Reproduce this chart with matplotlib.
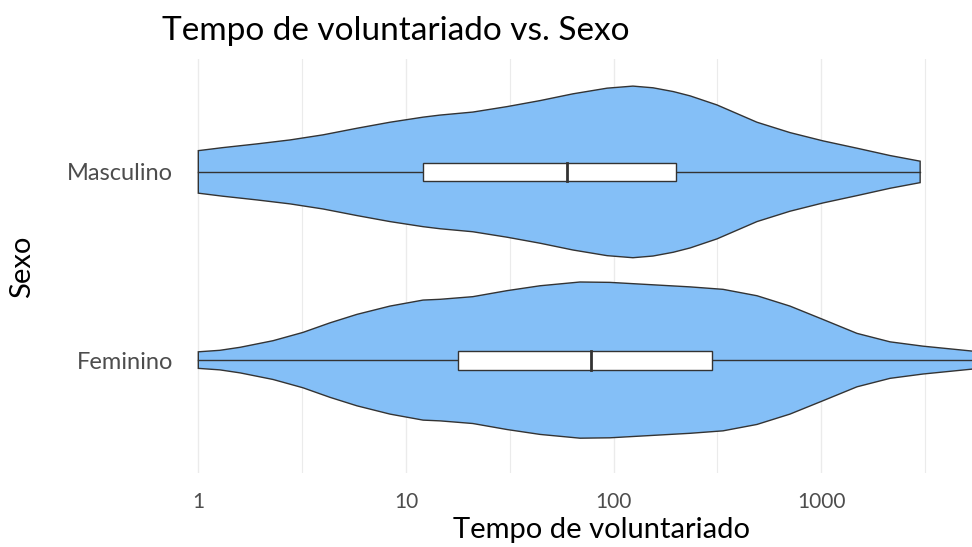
import numpy as np
import matplotlib
matplotlib.use("Agg")
import matplotlib.pyplot as plt
from matplotlib.patches import Rectangle

plt.rcParams['font.family'] = ['Lato', 'DejaVu Sans']

# categorias (de baixo para cima)
categorias = ['Feminino', 'Masculino']

# perfil do violino: tempo (horas) e meia-largura (unidades de categoria)
masc_tempo = [1, 1.31, 1.92, 2.77, 3.99, 5.81, 8.38, 12.1, 14.6, 21.0, 30.7, 44.3,
              63.8, 93.1, 124, 155, 194, 234, 315, 491, 708, 1021, 1489, 2148, 3000]
masc_largura = [0.113, 0.129, 0.149, 0.170, 0.197, 0.232, 0.264, 0.291, 0.302, 0.318,
                0.347, 0.379, 0.415, 0.445, 0.456, 0.447, 0.427, 0.404, 0.356, 0.264,
                0.209, 0.165, 0.126, 0.087, 0.057]

fem_tempo = [1, 1.27, 1.59, 2.29, 3.19, 4.31, 5.81, 8.38, 12.1, 14.6, 21.0, 30.7, 44.3,
             69, 96, 134, 234, 337, 491, 708, 1021, 1489, 2148, 3097, 5333, 8000]
fem_largura = [0.044, 0.052, 0.068, 0.103, 0.147, 0.198, 0.243, 0.287, 0.319, 0.323,
               0.337, 0.369, 0.395, 0.415, 0.413, 0.404, 0.389, 0.376, 0.342, 0.287,
               0.216, 0.142, 0.097, 0.074, 0.048, 0.03]

# boxplot: minimo, Q1, mediana, Q3, maximo
masc_box = [1, 12.1, 59.5, 200, 3000]
fem_box = [1, 17.9, 77.6, 299, 8000]

ticks_x = [1, 10, 100, 1000]
ticks_x_labels = ['1', '10', '100', '1000']

cor_violino = '#84bff7'
cor_linha = '#333333'

fig = plt.figure(figsize=(9.72, 5.47), dpi=100)
W, H = 972, 547
ax = fig.add_axes([180 / W, (H - 473) / H, (W - 180) / W, (473 - 59) / H])

violinos = [(fem_tempo, fem_largura, fem_box), (masc_tempo, masc_largura, masc_box)]
for pos, (tempo, larg, box) in enumerate(violinos, start=1):
    tempo = np.array(tempo)
    larg = np.array(larg)
    xs = np.concatenate([tempo, tempo[::-1]])
    ys = np.concatenate([pos + larg, (pos - larg)[::-1]])
    ax.fill(xs, ys, facecolor=cor_violino, edgecolor=cor_linha, linewidth=1.0, zorder=2)

    mn, q1, med, q3, mx = box
    ax.plot([mn, q1], [pos, pos], color=cor_linha, linewidth=1.0, zorder=3)
    ax.plot([q3, mx], [pos, pos], color=cor_linha, linewidth=1.0, zorder=3)
    ax.add_patch(Rectangle((q1, pos - 0.05), q3 - q1, 0.1, facecolor='white',
                           edgecolor=cor_linha, linewidth=1.0, zorder=3))
    ax.plot([med, med], [pos - 0.05, pos + 0.05], color=cor_linha, linewidth=2.0, zorder=4)

ax.set_xscale('log')
ax.set_xlim(10 ** ((180 - 198.3) / 207.6), 10 ** ((972 - 198.3) / 207.6))
ax.set_ylim(0.4, 2.6)

ax.set_xticks(ticks_x)
ax.set_xticklabels(ticks_x_labels)
ax.set_xticks([10 ** 0.5, 10 ** 1.5, 10 ** 2.5, 10 ** 3.5], minor=True)
ax.set_xticklabels([], minor=True)
ax.set_yticks([1, 2])
ax.set_yticklabels(categorias)
ax.tick_params(axis='both', which='both', length=0, colors='#4d4d4d')
ax.tick_params(axis='x', labelsize=15, pad=14)
ax.tick_params(axis='y', labelsize=17, pad=5)

ax.grid(True, axis='x', which='major', color='#ebebeb', linewidth=1.0, zorder=0)
ax.grid(True, axis='x', which='minor', color='#ebebeb', linewidth=0.8, zorder=0)
ax.set_axisbelow(True)
for s in ax.spines.values():
    s.set_visible(False)

fig.text(162 / W, 1 - 40 / H, 'Tempo de voluntariado vs. Sexo', fontsize=24,
         ha='left', va='baseline', color='black')
fig.text(601 / W, 1 - 538 / H, 'Tempo de voluntariado', fontsize=21,
         ha='center', va='baseline', color='black')
fig.text(22 / W, 1 - 267 / H, 'Sexo', fontsize=21, rotation=90,
         ha='center', va='center', color='black')

fig.savefig('out.png', dpi=100)
